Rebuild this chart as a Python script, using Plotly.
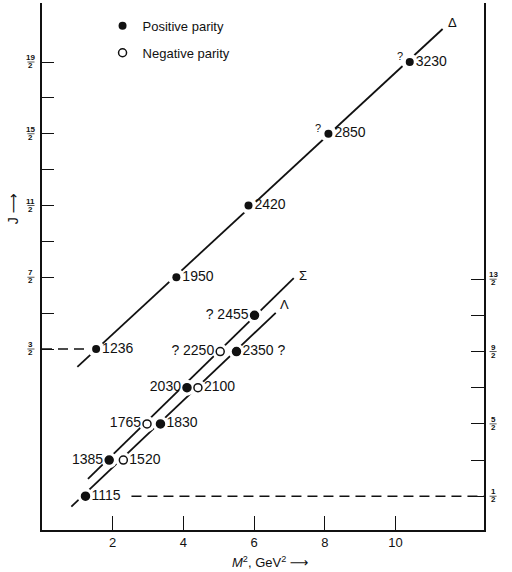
import plotly.graph_objects as go

# ---------------- data ----------------
# Delta trajectory (left J scale)
delta_mass = ["1236", "1950", "2420", "2850", "3230"]
delta_m2 = [1.53, 3.80, 5.84, 8.10, 10.40]
delta_J = [1.5, 3.5, 5.5, 7.5, 9.5]
delta_query = ["", "", "", "?", "?"]

# Lambda trajectory (right J scale)
lam_mass = ["1115", "1520", "1830", "2100", "2350 ?"]
lam_m2 = [1.23, 2.30, 3.35, 4.41, 5.50]
lam_J = [0.5, 1.5, 2.5, 3.5, 4.5]
lam_parity = ["+", "-", "+", "-", "+"]

# Sigma trajectory (right J scale)
sig_mass = ["1385", "1765", "2030", "? 2250", "? 2455"]
sig_m2 = [1.90, 2.97, 4.10, 5.04, 6.01]
sig_J = [1.5, 2.5, 3.5, 4.5, 5.5]
sig_parity = ["+", "-", "+", "-", "+"]

# trajectory lines (end points)
delta_line_m2 = [1.00, 11.33]
delta_line_J = [1.00, 10.42]
sig_line_m2 = [1.30, 7.12]
sig_line_J = [0.98, 6.53]
lam_line_m2 = [0.83, 6.61]
lam_line_J = [0.21, 5.57]

# dashed reference lines
ref_left_m2 = [0.0, 1.53]
ref_left_J = [1.5, 1.5]
ref_right_m2 = [2.53, 12.5]
ref_right_J = [0.5, 0.5]

# axes
x_range = [0, 12.5]
x_ticks = [2, 4, 6, 8, 10]
left_range = [-3.545, 11.145]
right_range = [-0.434, 14.136]
left_ticks = [1.5, 2.5, 3.5, 4.5, 5.5, 6.5, 7.5, 8.5, 9.5]
left_label_vals = [1.5, 3.5, 5.5, 7.5, 9.5]
left_label_num = ["3", "7", "11", "15", "19"]
right_ticks = [0.5, 1.5, 2.5, 3.5, 4.5, 5.5, 6.5]
right_label_vals = [0.5, 2.5, 4.5, 6.5]
right_label_num = ["1", "5", "9", "13"]
label_den = "2"

FONT = "Liberation Sans, Arial, DejaVu Sans, sans-serif"
BLACK = "#111111"

def symbols(par):
    return ["circle" if p == "+" else "circle-open" for p in par]

fig = go.Figure()

# ---- lines on left scale
fig.add_trace(go.Scatter(x=ref_left_m2, y=ref_left_J, mode="lines",
                         line=dict(color=BLACK, width=1.4, dash="10px,6px"),
                         showlegend=False, hoverinfo="skip"))
fig.add_trace(go.Scatter(x=delta_line_m2, y=delta_line_J, mode="lines",
                         line=dict(color=BLACK, width=1.8),
                         showlegend=False, hoverinfo="skip"))
# halos
fig.add_trace(go.Scatter(x=delta_m2, y=delta_J, mode="markers",
                         marker=dict(color="white", size=17),
                         showlegend=False, hoverinfo="skip"))
fig.add_trace(go.Scatter(x=delta_m2, y=delta_J, mode="markers+text",
                         marker=dict(color=BLACK, size=8, symbol="circle"),
                         text=delta_mass, textposition="middle right",
                         textfont=dict(family=FONT, size=14, color=BLACK),
                         showlegend=False))

# ---- lines on right scale
fig.add_trace(go.Scatter(x=ref_right_m2, y=ref_right_J, mode="lines", yaxis="y2",
                         line=dict(color=BLACK, width=1.4, dash="10px,6px"),
                         showlegend=False, hoverinfo="skip"))
for lx, ly in [(sig_line_m2, sig_line_J), (lam_line_m2, lam_line_J)]:
    fig.add_trace(go.Scatter(x=lx, y=ly, mode="lines", yaxis="y2",
                             line=dict(color=BLACK, width=1.8),
                             showlegend=False, hoverinfo="skip"))
fig.add_trace(go.Scatter(x=lam_m2 + sig_m2, y=lam_J + sig_J, mode="markers", yaxis="y2",
                         marker=dict(color="white", size=16),
                         showlegend=False, hoverinfo="skip"))
for mx, my, par, txt, pos in [(lam_m2, lam_J, lam_parity, lam_mass, "middle right"),
                               (sig_m2, sig_J, sig_parity, sig_mass, "middle left")]:
    fig.add_trace(go.Scatter(x=mx, y=my, mode="markers+text", yaxis="y2",
                             marker=dict(color=BLACK, size=8, symbol=symbols(par),
                                         line=dict(color=BLACK, width=1.5)),
                             text=txt, textposition=pos,
                             textfont=dict(family=FONT, size=14, color=BLACK),
                             showlegend=False))

# ---- legend entries
fig.add_trace(go.Scatter(x=[None], y=[None], mode="markers", name="Positive parity",
                         legendgroup="pos",
                         marker=dict(color=BLACK, size=8, symbol="circle")))
fig.add_trace(go.Scatter(x=[None], y=[None], mode="markers", name="Negative parity",
                         legendgroup="neg",
                         marker=dict(color=BLACK, size=8, symbol="circle-open",
                                     line=dict(color=BLACK, width=1.5))))

annotations = []
# ---- "?" marks of the Delta states
for mx, my, q in zip(delta_m2, delta_J, delta_query):
    if q:
        annotations.append(dict(x=mx, y=my, xref="x", yref="y", text=q, showarrow=False,
                                xanchor="center", yanchor="middle", xshift=-10, yshift=6,
                                font=dict(family=FONT, size=11, color=BLACK)))

# ---- trajectory names
for name, lx, ly, yref, xs, ys in [("Δ", delta_line_m2, delta_line_J, "y", 10, 7),
                                   ("Σ", sig_line_m2, sig_line_J, "y2", 9, 3),
                                   ("Λ", lam_line_m2, lam_line_J, "y2", 9, 8)]:
    annotations.append(dict(x=lx[-1], y=ly[-1], xref="x", yref=yref, text=name,
                            showarrow=False, xshift=xs, yshift=ys,
                            xanchor="center", yanchor="middle",
                            font=dict(family=FONT, size=13, color=BLACK)))

# ---- stacked-fraction tick labels
shapes = []
def frac_labels(vals, nums, xpaper, yref):
    for v, n in zip(vals, nums):
        annotations.append(dict(x=xpaper, y=v, xref="paper", yref=yref, text="<b>%s</b>" % n,
                                showarrow=False, yshift=4.5, xanchor="center", yanchor="middle",
                                font=dict(family=FONT, size=8, color=BLACK)))
        annotations.append(dict(x=xpaper, y=v, xref="paper", yref=yref, text="<b>%s</b>" % label_den,
                                showarrow=False, yshift=-3.5, xanchor="center", yanchor="middle",
                                font=dict(family=FONT, size=8, color=BLACK)))
        shapes.append(dict(type="line", xref="paper", yref=yref,
                           x0=xpaper - 0.008, x1=xpaper + 0.008, y0=v, y1=v,
                           line=dict(color=BLACK, width=0.7)))

frac_labels(left_label_vals, left_label_num, -0.025, "y")
frac_labels(right_label_vals, right_label_num, 1.0205, "y2")

# axis titles
annotations.append(dict(x=0.516, y=-0.06, xref="paper", yref="paper",
                        xanchor="center", yanchor="middle",
                        text="<i>M</i><sup>2</sup>, GeV<sup>2</sup> ⟶", showarrow=False,
                        font=dict(family=FONT, size=13, color=BLACK)))
annotations.append(dict(x=-0.066, y=0.61, xref="paper", yref="paper",
                        xanchor="center", yanchor="middle",
                        text="J ⟶", showarrow=False, textangle=-90,
                        font=dict(family=FONT, size=14, color=BLACK)))

fig.update_layout(
    width=512, height=572,
    margin=dict(l=42, r=28, t=3, b=42),
    paper_bgcolor="white", plot_bgcolor="white",
    font=dict(family=FONT, size=13, color=BLACK),
    xaxis=dict(range=x_range, tickvals=x_ticks, ticks="inside", ticklen=14,
               tickwidth=1.4, tickcolor=BLACK, showline=True, linecolor=BLACK,
               linewidth=1.5, showgrid=False, zeroline=False,
               tickfont=dict(family=FONT, size=13, color=BLACK)),
    yaxis=dict(range=left_range, tickvals=left_ticks, ticktext=[""] * len(left_ticks),
               ticks="inside", ticklen=12, tickwidth=1.4, tickcolor=BLACK,
               showline=True, linecolor=BLACK, linewidth=1.5,
               showgrid=False, zeroline=False),
    yaxis2=dict(range=right_range, tickvals=right_ticks, ticktext=[""] * len(right_ticks),
                overlaying="y", side="right",
                ticks="inside", ticklen=13, tickwidth=1.4, tickcolor=BLACK,
                showline=True, linecolor=BLACK, linewidth=1.5,
                showgrid=False, zeroline=False),
    legend=dict(x=0.137, y=0.985, xanchor="left", yanchor="top",
                bgcolor="rgba(0,0,0,0)", tracegroupgap=7,
                font=dict(family=FONT, size=13, color=BLACK)),
    annotations=annotations,
    shapes=shapes,
    showlegend=True,
)

fig.write_html("out.html")
